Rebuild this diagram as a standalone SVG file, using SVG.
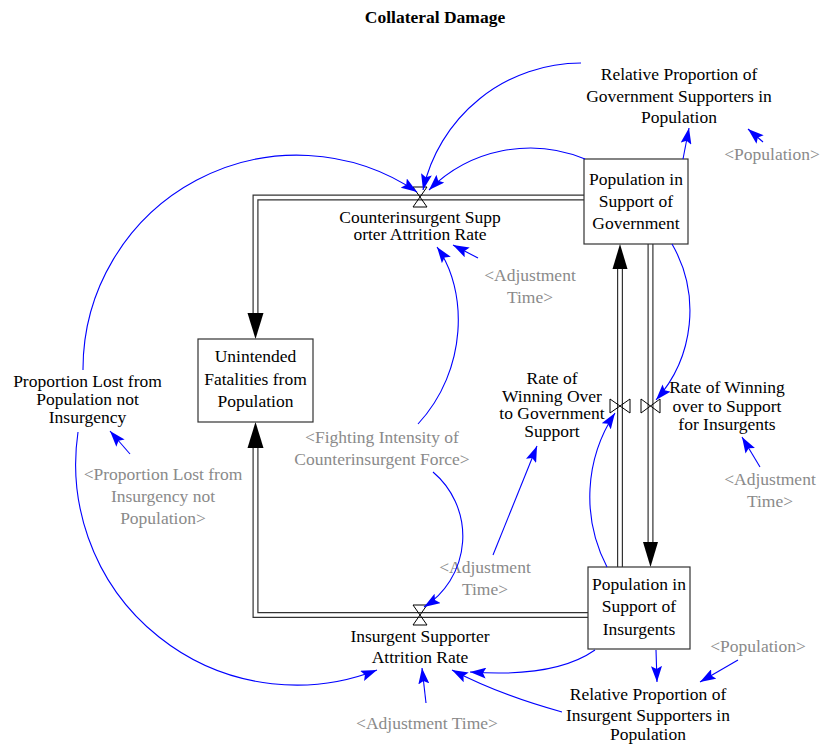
<svg xmlns="http://www.w3.org/2000/svg" width="824" height="751" viewBox="0 0 824 751">
<defs>
<marker id="ah" markerUnits="userSpaceOnUse" markerWidth="17" markerHeight="11" refX="16" refY="5.5" orient="auto" viewBox="0 0 17 11">
<path d="M0,0 L16,5.5 L0,11 L3,5.5 z" fill="#0000ff"/>
</marker>
<style>
text{text-anchor:middle;fill:#000}
.g{fill:#8a8a8a}
.t{font-weight:bold}
.box{fill:#fff;stroke:#333;stroke-width:1.2}
.po{fill:none;stroke:#333;stroke-width:6;stroke-linejoin:miter}
.pi{fill:none;stroke:#fff;stroke-width:3.6;stroke-linejoin:miter}
.ph{fill:#000}
.valve{fill:none;stroke:#000;stroke-width:1}
.c{fill:none;stroke:#0000ff;stroke-width:1.1;marker-end:url(#ah)}
</style>
</defs>
<rect width="824" height="751" fill="#fff"/>
<g font-family="'Liberation Serif', 'Times New Roman', 'DejaVu Serif', serif" font-size="17.5">
<text class="t" x="435" y="23">Collateral Damage</text>

<g id="pipes">
<path class="po" d="M584,197.5 H255.5 V314"/>
<path class="pi" d="M584,197.5 H255.5 V314"/>
<polygon class="ph" points="247.5,313 263.5,313 255.5,339"/>
<path class="po" d="M588,615 H255.5 V447"/>
<path class="pi" d="M588,615 H255.5 V447"/>
<polygon class="ph" points="247.5,448 263.5,448 255.5,422"/>
<path class="po" d="M620,567 V268"/>
<path class="pi" d="M620,567 V268"/>
<polygon class="ph" points="612.5,269 627.5,269 620,244"/>
<path class="po" d="M650.5,244 V543"/>
<path class="pi" d="M650.5,244 V543"/>
<polygon class="ph" points="643,542 658,542 650.5,567"/>
</g>

<g id="stock-pop-gov">
<rect class="box" x="584" y="159" width="104" height="85"/>
<text x="636" y="185">Population in</text>
<text x="636" y="207">Support of</text>
<text x="636" y="229">Government</text>
</g>
<g id="stock-unintended">
<rect class="box" x="198" y="339" width="115" height="83"/>
<text x="255.5" y="362">Unintended</text>
<text x="255.5" y="385">Fatalities from</text>
<text x="255.5" y="407">Population</text>
</g>
<g id="stock-pop-ins">
<rect class="box" x="588" y="567" width="102" height="82"/>
<text x="639" y="590">Population in</text>
<text x="639" y="612">Support of</text>
<text x="639" y="635">Insurgents</text>
</g>

<g id="flow-counter-attrition">
<path class="valve" d="M413,187 H427 L413,207 H427 Z"/>
<text x="420" y="223">Counterinsurgent Supp</text>
<text x="420" y="240">orter Attrition Rate</text>
</g>
<g id="flow-insurgent-attrition">
<path class="valve" d="M413,605 H427 L413,625 H427 Z"/>
<text x="420" y="642">Insurgent Supporter</text>
<text x="420" y="663">Attrition Rate</text>
</g>
<g id="flow-win-gov">
<path class="valve" d="M610,399 V413 L630,399 V413 Z"/>
<text x="552" y="384">Rate of</text>
<text x="552" y="402">Winning Over</text>
<text x="552" y="419">to Government</text>
<text x="552" y="437">Support</text>
</g>
<g id="flow-win-ins">
<path class="valve" d="M641,399 V413 L660,399 V413 Z"/>
<text x="727" y="393">Rate of Winning</text>
<text x="727" y="412">over to Support</text>
<text x="727" y="430">for Insurgents</text>
</g>

<g id="aux-rel-prop-gov">
<text x="679" y="80">Relative Proportion of</text>
<text x="679" y="102">Government Supporters in</text>
<text x="679" y="123">Population</text>
</g>
<g id="aux-rel-prop-ins">
<text x="648" y="700">Relative Proportion of</text>
<text x="648" y="721">Insurgent Supporters in</text>
<text x="648" y="740">Population</text>
</g>
<g id="aux-prop-lost">
<text x="87.5" y="387">Proportion Lost from</text>
<text x="87.5" y="405">Population not</text>
<text x="87.5" y="423">Insurgency</text>
</g>

<g id="shadow-population-top"><text class="g" x="772" y="160">&lt;Population&gt;</text></g>
<g id="shadow-population-bottom"><text class="g" x="758" y="652">&lt;Population&gt;</text></g>
<g id="shadow-adj-time-1">
<text class="g" x="530" y="281">&lt;Adjustment</text>
<text class="g" x="530" y="303">Time&gt;</text>
</g>
<g id="shadow-adj-time-2">
<text class="g" x="770" y="485">&lt;Adjustment</text>
<text class="g" x="770" y="507">Time&gt;</text>
</g>
<g id="shadow-adj-time-3">
<text class="g" x="485" y="573">&lt;Adjustment</text>
<text class="g" x="485" y="595">Time&gt;</text>
</g>
<g id="shadow-adj-time-4"><text class="g" x="427" y="729">&lt;Adjustment Time&gt;</text></g>
<g id="shadow-fighting">
<text class="g" x="382" y="443">&lt;Fighting Intensity of</text>
<text class="g" x="382" y="465">Counterinsurgent Force&gt;</text>
</g>
<g id="shadow-prop-lost-ins">
<text class="g" x="163" y="480">&lt;Proportion Lost from</text>
<text class="g" x="163" y="502">Insurgency not</text>
<text class="g" x="163" y="524">Population&gt;</text>
</g>

<g id="connectors">
<path class="c" d="M581,63 A162,162 0 0 0 423,190"/>
<path class="c" d="M585,159 A143,143 0 0 0 429,190"/>
<path class="c" d="M683,159 L689,128"/>
<path class="c" d="M763,142 L748,129"/>
<path class="c" d="M83,370 A214,214 0 0 1 417,192"/>
<path class="c" d="M78,432 A221,221 0 0 0 377,670"/>
<path class="c" d="M130,454 L110,431"/>
<path class="c" d="M478,258 L453,245"/>
<path class="c" d="M418,424 C468,370 468,290 437,247"/>
<path class="c" d="M433,472 A84,84 0 0 1 424,607"/>
<path class="c" d="M493,555 L537,446"/>
<path class="c" d="M607,567 A152,152 0 0 1 615,413"/>
<path class="c" d="M672,244 A134,134 0 0 1 656,400"/>
<path class="c" d="M760,467 L742,437"/>
<path class="c" d="M595,650 Q555,678 470,672"/>
<path class="c" d="M656,650 L657,682"/>
<path class="c" d="M738,660 L700,682"/>
<path class="c" d="M562,712 Q500,695 452,670"/>
<path class="c" d="M426,703 L422,668"/>
</g>
</g>
</svg>
